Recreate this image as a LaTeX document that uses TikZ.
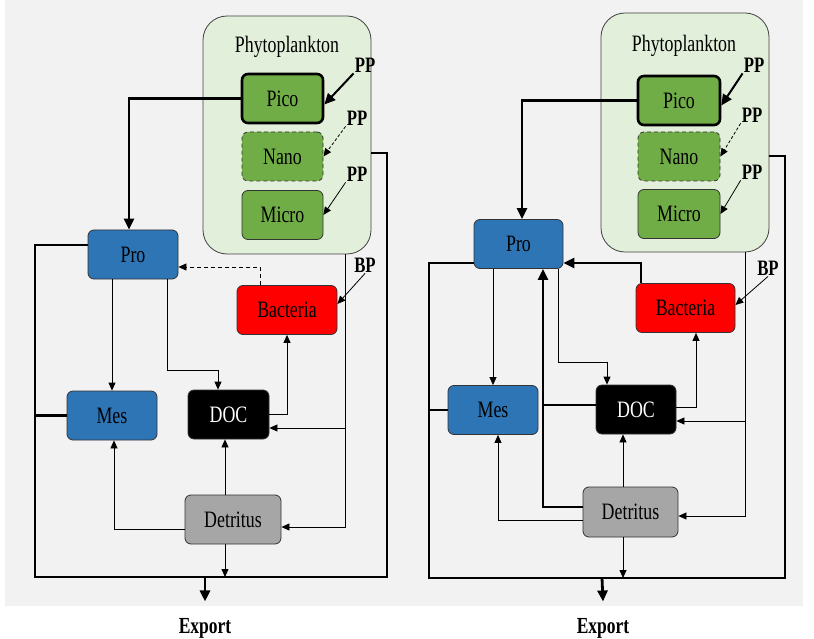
\documentclass[tikz,border=0pt]{standalone}
\usepackage{fontspec}
\setmainfont{Liberation Serif}
\newfontfamily\narrowserif[FakeStretch=0.76]{Liberation Serif}
\usetikzlibrary{arrows.meta,positioning,calc}

\definecolor{phyfill}{HTML}{E2EFDA}
\definecolor{phygreen}{HTML}{70AD47}
\definecolor{zooblue}{HTML}{2E75B6}
\definecolor{detgray}{HTML}{A6A6A6}
\definecolor{bggray}{HTML}{F2F2F2}

\begin{document}
\begin{tikzpicture}[x=1pt, y=-1pt,
    box/.style={draw=black!80, line width=0.8pt, rounded corners=6pt, minimum height=49pt,
        inner sep=0pt, font=\narrowserif\fontsize{23.5}{23.5}\selectfont},
    phybox/.style={box, fill=phygreen, minimum width=81pt},
    zoobox/.style={box, fill=zooblue, minimum width=90pt},
    phyarea/.style={draw=black!75, fill=phyfill, line width=0.8pt, rounded corners=24pt,
        minimum width=168pt, minimum height=238pt},
    title/.style={font=\narrowserif\fontsize{23.5}{23.5}\selectfont},
    lbl/.style={font=\narrowserif\bfseries\fontsize{22}{22}\selectfont, inner sep=1pt},
    outlbl/.style={font=\narrowserif\bfseries\fontsize{23}{23}\selectfont},
    flow/.style={line width=0.8pt, -{Triangle[length=8pt,width=7pt]}},
    bigflow/.style={line width=2.8pt, -{Triangle[length=11pt,width=10pt]}},
    link/.style={line width=0.8pt},
    biglink/.style={line width=2.8pt},
]
\useasboundingbox (0,0) rectangle (814,639);
\fill[bggray] (5,0) rectangle (803,606);

% Left panel
\node[phyarea] (Lphy) at (287,135) {};
\node[title] (Lphylab) at (287,47) {Phytoplankton};
\node[phybox, draw=black, line width=2.6pt] (Lpico) at (282.5,98.5) {Pico};
\node[phybox, dash pattern=on 4pt off 3pt] (Lnano) at (282.5,156.5) {Nano};
\node[phybox] (Lmicro) at (282.5,215) {Micro};
\node[zoobox] (Lpro) at (133,254.5) {Pro};
\node[box, fill=red, minimum width=100pt] (Lbac) at (287,310) {Bacteria};
\node[zoobox] (Lmes) at (112,415.5) {Mes};
\node[box, fill=black, text=white, minimum width=81pt] (Ldoc) at (228.5,414.5) {DOC};
\node[box, fill=detgray, minimum width=96pt] (Ldet) at (233,519.5) {Detritus};

\node[lbl] (Lpp1) at (365,65) {PP};
\node[lbl] (Lpp2) at (357,118) {PP};
\node[lbl] (Lpp3) at (357,174) {PP};
\node[lbl] (Lbp) at (365,265) {BP};
\node[outlbl] (Lexport) at (205,628) {Export};

\coordinate (Lcl) at (35,577);
\coordinate (Lcr) at (387,577);
\coordinate (Lout) at (205,577);
\coordinate (Ldrop) at ([xshift=58pt]Lphy.south);

% primary and bacterial production
\draw[bigflow, line width=2pt] (Lpp1.south west) -- ([yshift=-6pt]Lpico.east);
\draw[flow, dash pattern=on 3pt off 2pt] (Lpp2.south west) -- (Lnano.east);
\draw[flow] (Lpp3.south west) -- (Lmicro.east);
\draw[flow] (Lbp.south) -- ([yshift=6pt]Lbac.east);

% grazing and excretion
\draw[bigflow] (Lpico.west) -| ([xshift=-4pt]Lpro.north);
\draw[flow, dash pattern=on 4pt off 3pt] ([xshift=-27pt]Lbac.north) |- ([yshift=-12.5pt]Lpro.east);
\draw[flow] (Lmes.north |- Lpro.south) -- (Lmes.north);
\draw[flow] ([xshift=34pt]Lpro.south) -- ++(0,91) -| ([xshift=-10.5pt]Ldoc.north);
\draw[flow] (Ldoc.east) -| (Lbac.south);

% mortality
\draw[flow] (Ldrop) |- ([yshift=-7.5pt]Ldet.east);
\draw[flow] ([yshift=-13.5pt]Ldoc.east -| Ldrop) -- ([yshift=-13.5pt]Ldoc.east);
\draw[flow] ([yshift=-9.5pt]Ldet.west) -| ([xshift=2pt]Lmes.south);
\draw[flow] ([xshift=-8pt]Ldet.north) -- ([xshift=-8pt]Ldet.north |- Ldoc.south);

% export
\draw[biglink] ([yshift=-18pt]Lphy.east) -| (Lcr) -- (Lcl) |- ([yshift=9.5pt]Lpro.west);
\draw[biglink] (Lmes.west) -- (Lmes.west -| Lcl);
\draw[flow] ([xshift=-8pt]Ldet.south) -- ([xshift=-8pt]Ldet.south |- Lout);
\draw[bigflow] (Lout) -- ([yshift=13pt]Lexport.north);

% Right panel
\node[phyarea, minimum height=239pt] (Rphy) at (685,132.5) {};
\node[title] (Rphylab) at (684,46) {Phytoplankton};
\node[phybox, draw=black, line width=2.6pt, minimum width=82pt] (Rpico) at (679,100.5) {Pico};
\node[phybox, minimum width=82pt, dash pattern=on 4pt off 3pt] (Rnano) at (679,156.5) {Nano};
\node[phybox, minimum width=82pt] (Rmicro) at (679,214) {Micro};
\node[zoobox, minimum width=89pt] (Rpro) at (518.5,244) {Pro};
\node[box, fill=red, minimum width=99pt] (Rbac) at (685.5,308) {Bacteria};
\node[zoobox] (Rmes) at (493,410) {Mes};
\node[box, fill=black, text=white, minimum width=80pt] (Rdoc) at (636,409.5) {DOC};
\node[box, fill=detgray, minimum width=95pt, minimum height=50pt] (Rdet) at (630.5,512) {Detritus};

\node[lbl] (Rpp1) at (754,65) {PP};
\node[lbl] (Rpp2) at (752,115) {PP};
\node[lbl] (Rpp3) at (752,172) {PP};
\node[lbl] (Rbp) at (768,268) {BP};
\node[outlbl] (Rexport) at (603,628) {Export};

\coordinate (Rcl) at (429,578);
\coordinate (Rcr) at (785,578);
\coordinate (Rout) at (602,578);
\coordinate (Rdrop) at ([xshift=60pt]Rphy.south);

% primary and bacterial production
\draw[bigflow, line width=2pt] (Rpp1.south west) -- ([yshift=-5pt]Rpico.east);
\draw[flow, dash pattern=on 3pt off 2pt] (Rpp2.south west) -- (Rnano.east);
\draw[flow] (Rpp3.south west) -- (Rmicro.east);
\draw[flow] (Rbp.south) -- ([yshift=3pt]Rbac.east);

% grazing and excretion
\draw[bigflow] (Rpico.west) -| ([xshift=3.5pt]Rpro.north);
\draw[bigflow] ([xshift=-44.5pt]Rbac.north) |- ([yshift=-19pt]Rpro.east);
\draw[flow] (Rmes.north |- Rpro.south) -- (Rmes.north);
\draw[flow] ([xshift=39.5pt]Rpro.south) -- ++(0,93) -| ([xshift=-29pt]Rdoc.north);
\draw[flow] ([yshift=2.5pt]Rdoc.east) -| ([xshift=10.5pt]Rbac.south);
\draw[bigflow] ([yshift=5pt]Rdet.west) -| ([xshift=24.5pt]Rpro.south);
\draw[biglink] ([yshift=4.5pt]Rdoc.west) -- ([yshift=4.5pt]Rdoc.west -| {$(Rpro.south)+(24.5,0)$});

% mortality
\draw[flow] (Rdrop) |- ([yshift=-4pt]Rdet.east);
\draw[flow] ([yshift=-11.5pt]Rdoc.east -| Rdrop) -- ([yshift=-11.5pt]Rdoc.east);
\draw[flow] ([yshift=-8pt]Rdet.west) -| ([xshift=5pt]Rmes.south);
\draw[flow] ([xshift=-7.5pt]Rdet.north) -- ([xshift=-7.5pt]Rdet.north |- Rdoc.south);

% export
\draw[biglink] ([yshift=-23.5pt]Rphy.east) -| (Rcr) -- (Rcl) |- ([yshift=-19pt]Rpro.west);
\draw[biglink] (Rmes.west) -- (Rmes.west -| Rcl);
\draw[flow] ([xshift=-7.5pt]Rdet.south) -- ([xshift=-7.5pt]Rdet.south |- Rout);
\draw[bigflow] (Rout) -- ([yshift=13pt]Rexport.north);
\end{tikzpicture}
\end{document}
